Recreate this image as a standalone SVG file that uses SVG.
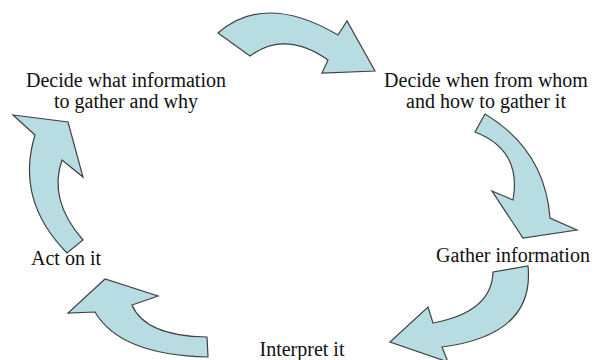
<svg xmlns="http://www.w3.org/2000/svg" width="595" height="360" viewBox="0 0 595 360">
<style>
.arr{fill:#b7dde2;stroke:#404040;stroke-width:1.2;stroke-linejoin:miter}
text{font-family:"Liberation Serif","Times New Roman",serif;font-size:20px;fill:#111;text-anchor:middle}
</style>
<rect width="595" height="360" fill="#fff"/>
<g id="connectors">
<path class="arr" d="M218,33 Q265,-8 338,35 L347,21 L375,71 L322,73 L328,60 Q285,30 250,56 Z"/>
<path class="arr" d="M485,114 Q545,150 550,218 L577,230 L523,238 L492,191 L513,200 Q522,150 475,132 Z"/>
<path class="arr" d="M528,266 Q535,335 442,347 L448,362 L390,342 L428,307 L433,323 Q492,312 493,272 Z"/>
<path class="arr" d="M208,357 Q120,355 95,312 L68,313 L105,279 L158,296 L132,305 Q145,336 207,337 Z"/>
<path class="arr" d="M67,253 Q15,200 35,135 L13,115 L68,122 L83,177 L62,160 Q48,200 83,240 Z"/>
</g>
<g id="n1"><text x="126" y="87">Decide what information</text><text x="126" y="108">to gather and why</text></g>
<g id="n2"><text x="486" y="87">Decide when from whom</text><text x="486" y="108">and how to gather it</text></g>
<g id="n3"><text x="513" y="262">Gather information</text></g>
<g id="n4"><text x="302" y="356">Interpret it</text></g>
<g id="n5"><text x="66" y="265">Act on it</text></g>
</svg>
